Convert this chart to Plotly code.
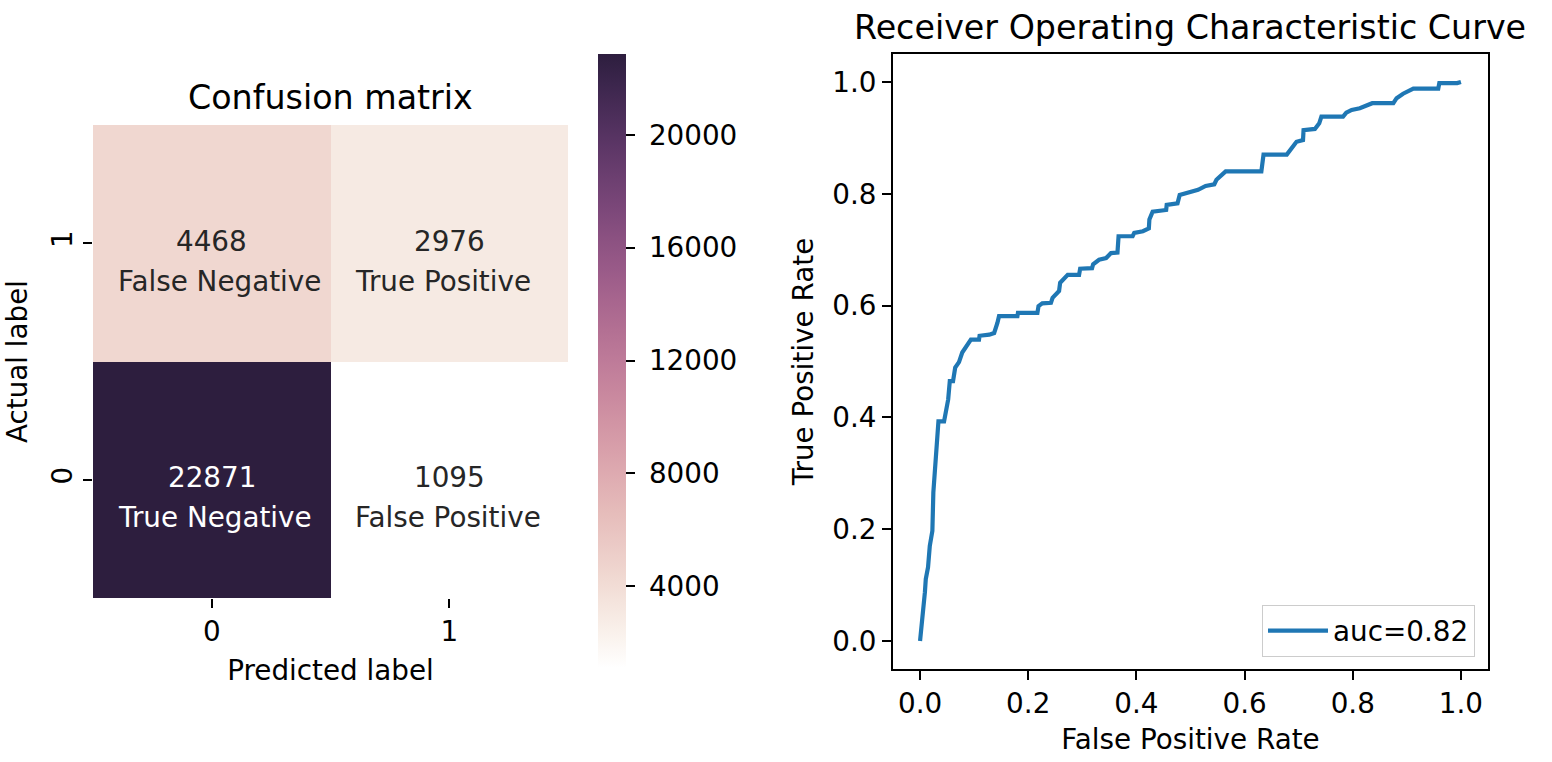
import numpy as np
import plotly.graph_objects as go

# ---------------- data ----------------
cm_x = [0, 1]                      # predicted label
cm_y = [0, 1]                      # actual label
cm_values = [[22871, 1095],        # actual 0
             [4468, 2976]]         # actual 1
cm_names = [["True Negative", "False Positive"],
            ["False Negative", "True Positive"]]
cbar_ticks = [4000, 8000, 12000, 16000, 20000]

roc_fpr = [0, 0.003, 0.0056, 0.009, 0.0106, 0.0148, 0.018, 0.0228, 0.0246, 0.0278,
           0.029, 0.034, 0.0444, 0.0476, 0.052, 0.055, 0.061, 0.065, 0.072, 0.078,
           0.089, 0.094, 0.109, 0.11, 0.128, 0.137, 0.143, 0.146, 0.180, 0.181,
           0.217, 0.219, 0.226, 0.242, 0.245, 0.257, 0.259, 0.273, 0.294, 0.296,
           0.318, 0.320, 0.331, 0.344, 0.353, 0.365, 0.367, 0.393, 0.396, 0.412,
           0.423, 0.424, 0.430, 0.455, 0.456, 0.476, 0.480, 0.495, 0.514, 0.528,
           0.544, 0.548, 0.554, 0.565, 0.631, 0.635, 0.678, 0.688, 0.696, 0.708,
           0.709, 0.730, 0.738, 0.742, 0.782, 0.788, 0.798, 0.813, 0.822, 0.836,
           0.875, 0.881, 0.893, 0.912, 0.958, 0.960, 0.993, 1.0]
roc_tpr = [0, 0.025, 0.052, 0.0875, 0.111, 0.132, 0.170, 0.197, 0.266, 0.316,
           0.334, 0.393, 0.393, 0.414, 0.432, 0.465, 0.465, 0.489, 0.499, 0.516,
           0.530, 0.539, 0.539, 0.546, 0.548, 0.551, 0.569, 0.581, 0.581, 0.587,
           0.587, 0.599, 0.604, 0.605, 0.614, 0.626, 0.641, 0.655, 0.655, 0.666,
           0.667, 0.674, 0.682, 0.685, 0.694, 0.695, 0.724, 0.724, 0.730, 0.733,
           0.738, 0.754, 0.768, 0.771, 0.780, 0.783, 0.798, 0.802, 0.807, 0.814,
           0.817, 0.825, 0.831, 0.840, 0.840, 0.870, 0.870, 0.882, 0.893, 0.896,
           0.914, 0.916, 0.926, 0.938, 0.938, 0.945, 0.950, 0.953, 0.957, 0.962,
           0.962, 0.971, 0.979, 0.988, 0.988, 0.998, 0.998, 1.0]
roc_auc = 0.82

# ---------------- style ----------------
W, H = 1552, 762
FONT = "DejaVu Sans"
FS = 27.8
TFS = 33.3
DARK = "#262626"


def cubehelix(x, start=0.0, rot=0.4, gamma=1.0, hue=0.8):
    xg = x ** gamma
    a = hue * xg * (1 - xg) / 2
    phi = 2 * np.pi * (start / 3 + rot * x)
    r = xg + a * (-0.14861 * np.cos(phi) + 1.78277 * np.sin(phi))
    g = xg + a * (-0.29227 * np.cos(phi) - 0.90649 * np.sin(phi))
    b = xg + a * (1.97294 * np.cos(phi))
    return [int(round(255 * min(max(c, 0), 1))) for c in (r, g, b)]


stops = np.linspace(0, 1, 21)
colorscale = []
for s in stops:
    r, g, b = cubehelix(1.0 - s * (1.0 - 0.15))
    colorscale.append([float(s), f"rgb({r},{g},{b})"])


def px_x(p):
    return p / W


def px_y(p):
    return 1 - p / H


fig = go.Figure()

fig.add_trace(go.Heatmap(
    x=cm_x, y=cm_y, z=cm_values,
    colorscale=colorscale,
    showscale=True,
    xaxis="x", yaxis="y",
    colorbar=dict(
        x=px_x(598), xanchor="left",
        y=px_y(361), yanchor="middle",
        lenmode="pixels", len=614,
        thickness=28, thicknessmode="pixels",
        outlinewidth=0,
        tickvals=cbar_ticks, ticktext=[" " + str(t) for t in cbar_ticks],
        ticks="outside", ticklen=9, tickwidth=2, tickcolor="black",
        tickfont=dict(family=FONT, size=FS, color="black"),
        xpad=0, ypad=0,
    ),
    hoverinfo="skip",
))

fig.add_trace(go.Scatter(
    x=roc_fpr, y=roc_tpr, mode="lines",
    line=dict(color="#1f77b4", width=4.2),
    name=f"auc={roc_auc}",
    xaxis="x2", yaxis="y2",
))

vmax = max(max(r) for r in cm_values)
vmin = min(min(r) for r in cm_values)
annotations = []
for i, yv in enumerate(cm_y):
    for j, xv in enumerate(cm_x):
        v = cm_values[i][j]
        col = "white" if (v - vmin) / (vmax - vmin) > 0.5 else DARK
        annotations.append(dict(x=xv, y=yv, xref="x", yref="y", text=str(v),
                                showarrow=False, yshift=2,
                                font=dict(family=FONT, size=FS, color=col)))
        annotations.append(dict(x=xv, y=yv, xref="x", yref="y", text=cm_names[i][j],
                                showarrow=False, yshift=-38,
                                xanchor="left", xshift=-96,
                                font=dict(family=FONT, size=FS, color=col)))

annotations.append(dict(x=px_x(330), y=px_y(97), xref="paper", yref="paper",
                        text="Confusion matrix", showarrow=False,
                        xanchor="center", yanchor="middle",
                        font=dict(family=FONT, size=TFS, color="black")))
annotations.append(dict(x=px_x(1190), y=px_y(27), xref="paper", yref="paper",
                        text="Receiver Operating Characteristic Curve", showarrow=False,
                        xanchor="center", yanchor="middle",
                        font=dict(family=FONT, size=TFS, color="black")))

tickfont = dict(family=FONT, size=FS, color="black")
titlefont = dict(family=FONT, size=FS, color="black")

fig.update_layout(
    width=W, height=H,
    margin=dict(l=0, r=0, t=0, b=0),
    paper_bgcolor="white", plot_bgcolor="white",
    font=dict(family=FONT, size=FS, color="black"),
    annotations=annotations,
    xaxis=dict(
        domain=[px_x(93), px_x(568)], anchor="y",
        range=[-0.5, 1.5], tickvals=cm_x, ticktext=[str(v) for v in cm_x],
        ticks="outside", ticklen=9, tickwidth=2, tickcolor="black",
        showline=False, showgrid=False, zeroline=False,
        tickfont=tickfont,
        title=dict(text="Predicted label", font=titlefont, standoff=13),
    ),
    yaxis=dict(
        domain=[px_y(598), px_y(125)], anchor="x",
        range=[-0.5, 1.5], tickvals=cm_y, ticktext=[str(v) for v in cm_y],
        ticks="outside", ticklen=9, tickwidth=2, tickcolor="black",
        tickangle=-90,
        showline=False, showgrid=False, zeroline=False,
        tickfont=tickfont,
        title=dict(text="Actual label", font=titlefont, standoff=10),
    ),
    xaxis2=dict(
        domain=[px_x(893), px_x(1488)], anchor="y2",
        range=[-0.05, 1.05], tickvals=[0, 0.2, 0.4, 0.6, 0.8, 1.0],
        ticktext=["0.0", "0.2", "0.4", "0.6", "0.8", "1.0"],
        ticks="outside", ticklen=9, tickwidth=2, tickcolor="black",
        showline=True, mirror=True, linecolor="black", linewidth=2,
        showgrid=False, zeroline=False,
        tickfont=tickfont,
        title=dict(text="False Positive Rate", font=titlefont, standoff=10),
    ),
    yaxis2=dict(
        domain=[px_y(669), px_y(54)], anchor="x2",
        range=[-0.05, 1.05], tickvals=[0, 0.2, 0.4, 0.6, 0.8, 1.0],
        ticktext=["0.0", "0.2", "0.4", "0.6", "0.8", "1.0"],
        ticks="outside", ticklen=9, tickwidth=2, tickcolor="black",
        showline=True, mirror=True, linecolor="black", linewidth=2,
        showgrid=False, zeroline=False,
        tickfont=tickfont,
        title=dict(text="True Positive Rate", font=titlefont, standoff=10),
    ),
    showlegend=True,
    legend=dict(
        x=px_x(1475), xanchor="right",
        y=px_y(657), yanchor="bottom",
        bgcolor="rgba(255,255,255,0.8)",
        bordercolor="#cccccc", borderwidth=1,
        itemwidth=60,
        font=dict(family=FONT, size=FS, color="black"),
    ),
)

fig.write_html("out.html", config={"displayModeBar": False},
               post_script="document.body.style.margin='0';")
